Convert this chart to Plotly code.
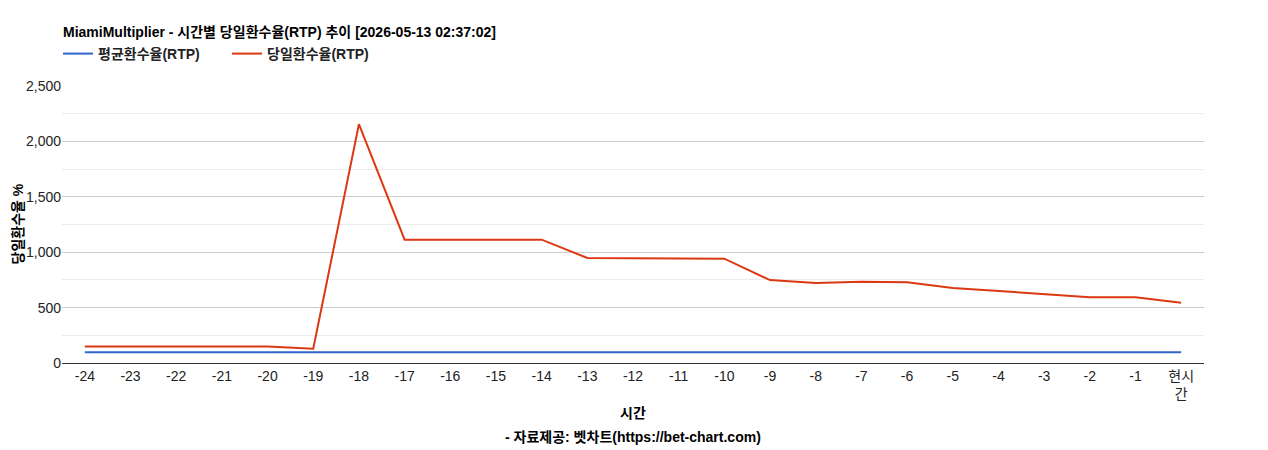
import plotly.graph_objects as go

categories = ["-24", "-23", "-22", "-21", "-20", "-19", "-18", "-17", "-16", "-15", "-14",
              "-13", "-12", "-11", "-10", "-9", "-8", "-7", "-6", "-5", "-4", "-3", "-2", "-1",
              "현시<br>간"]
avg_rtp = [96] * 25
today_rtp = [150, 150, 150, 150, 150, 128, 2155, 1113, 1113, 1113, 1113,
             948, 948, 948, 942, 748, 722, 734, 728, 677, 651, 623, 594, 593, 544]
y_ticks = [0, 500, 1000, 1500, 2000, 2500]
y_tick_labels = ["0", "500", "1,000", "1,500", "2,000", "2,500"]

FONT = "Arial, 'Liberation Sans', 'Noto Sans CJK KR', sans-serif"

W, H = 1260, 442
L, R, T, B = 54, 64, 78, 87
PW = W - L - R
PH = H - T - B

fig = go.Figure()
fig.add_trace(go.Scatter(x=categories, y=avg_rtp, mode="lines", name="<b>평균환수율(RTP)</b>",
                         line=dict(color="#3366cc", width=2)))
fig.add_trace(go.Scatter(x=categories, y=today_rtp, mode="lines", name="<b>당일환수율(RTP)</b>",
                         line=dict(color="#dc3912", width=2)))

fig.update_layout(
    width=W, height=H,
    margin=dict(l=L, r=R, t=T, b=B),
    paper_bgcolor="white", plot_bgcolor="white",
    font=dict(family=FONT, size=14, color="#222222"),
    title=dict(text="<b>MiamiMultiplier - 시간별 당일환수율(RTP) 추이 [2026-05-13 02:37:02]</b>",
               x=55/W, xanchor="left", y=1-24/H, yanchor="middle",
               font=dict(size=14, color="#000000", family=FONT)),
    showlegend=True,
    legend=dict(orientation="h", x=-4/PW, xanchor="left", y=1 + (T-(54-8))/PH,
                yanchor="middle",
                font=dict(size=14, color="#222222", family=FONT),
                itemwidth=30, entrywidth=124, entrywidthmode="pixels",
                bgcolor="rgba(0,0,0,0)"),
    xaxis=dict(type="category", showgrid=False, showline=True, linecolor="#333333",
               linewidth=1, ticks="", tickfont=dict(size=14, color="#222222"),
               range=[-0.5, 24.5], fixedrange=True),
    yaxis=dict(range=[0, 2500], tickvals=y_ticks, ticktext=y_tick_labels,
               showgrid=True, gridcolor="#cccccc", gridwidth=1, zeroline=False,
               showline=False, ticks="", tickfont=dict(size=14, color="#222222"),
               minor=dict(dtick=250, showgrid=True, gridcolor="#ebebeb", gridwidth=1),
               fixedrange=True),
    annotations=[
        dict(text="<b>시간</b>", xref="paper", yref="paper", x=0.5, y=-50/PH,
             xanchor="center", yanchor="middle", showarrow=False,
             font=dict(size=14, color="#000000")),
        dict(text="<b>- 자료제공: 벳차트(https://bet-chart.com)</b>", xref="paper", yref="paper",
             x=0.5, y=-74/PH, xanchor="center", yanchor="middle", showarrow=False,
             font=dict(size=14, color="#000000")),
        dict(text="<b>당일환수율 %</b>", xref="paper", yref="paper", x=-45/PW, y=0.5,
             xanchor="center", yanchor="middle", textangle=-90, showarrow=False,
             font=dict(size=14, color="#000000")),
    ],
)

fig.write_html("out.html")
